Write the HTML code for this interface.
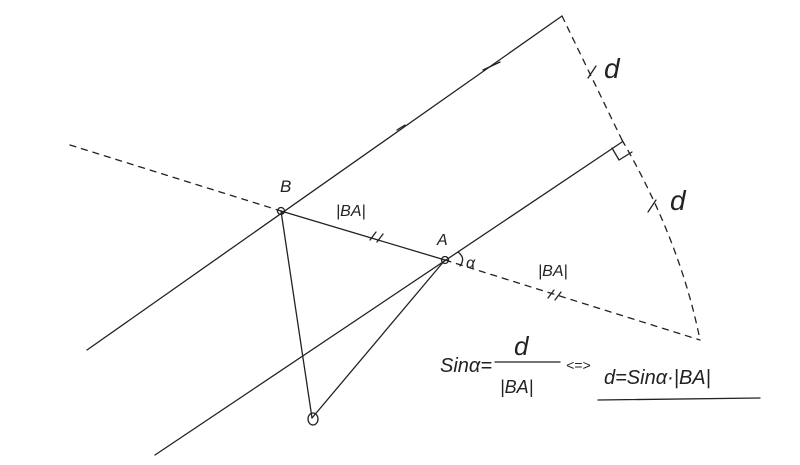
<!DOCTYPE html>
<html><head><meta charset="utf-8"><style>html,body{margin:0;padding:0;background:#fff}</style></head>
<body>
<svg width="800" height="460" viewBox="0 0 800 460" xmlns="http://www.w3.org/2000/svg" font-family="Liberation Sans, sans-serif">
<g stroke="#222" stroke-width="1.3" fill="none" stroke-linecap="round">
<line x1="87" y1="350" x2="562" y2="16"/>
<line x1="155" y1="455" x2="622" y2="142"/>
<line x1="70" y1="145" x2="281" y2="211" stroke-dasharray="6,6"/>
<line x1="281" y1="211" x2="445" y2="260"/>
<line x1="445" y1="260" x2="700" y2="340" stroke-dasharray="6,6"/>
<line x1="562" y1="16" x2="622" y2="140" stroke-dasharray="6,6"/>
<path d="M622,140 Q680,240 700,340" stroke-dasharray="6,6"/>
<path d="M612,148 L619,160 L632,152"/>
<line x1="281" y1="211" x2="312" y2="418"/>
<line x1="312" y1="418" x2="445" y2="260"/>
<circle cx="281" cy="211" r="3.5"/>
<circle cx="445" cy="260" r="3.5"/>
<ellipse cx="313" cy="419" rx="5" ry="6"/>
<path d="M458,252 Q466,258 460,266"/>
<line x1="370" y1="240" x2="376" y2="232"/><line x1="377" y1="242" x2="383" y2="234"/>
<line x1="548" y1="298" x2="554" y2="290"/><line x1="555" y1="300" x2="561" y2="292"/>
<line x1="483" y1="70" x2="500" y2="62"/>
<line x1="397" y1="130" x2="405" y2="125"/>
<line x1="588" y1="78" x2="596" y2="66"/>
<line x1="648" y1="212" x2="656" y2="200"/>
<line x1="598" y1="400" x2="760" y2="398"/>
<line x1="495" y1="362" x2="560" y2="362"/>
</g>
<g fill="#222" font-style="italic">
<text x="280" y="192" font-size="17">B</text>
<text x="336" y="216" font-size="16">|BA|</text>
<text x="437" y="245" font-size="16">A</text>
<text x="466" y="268" font-size="16">α</text>
<text x="538" y="276" font-size="16">|BA|</text>
<text x="604" y="78" font-size="28">d</text>
<text x="670" y="210" font-size="28">d</text>
<text x="440" y="372" font-size="20">Sinα=</text>
<text x="514" y="355" font-size="26">d</text>
<text x="500" y="393" font-size="18">|BA|</text>
<text x="566" y="370" font-size="14">&lt;=&gt;</text>
<text x="604" y="384" font-size="20">d=Sinα·|BA|</text>
</g>
</svg>
</body></html>
